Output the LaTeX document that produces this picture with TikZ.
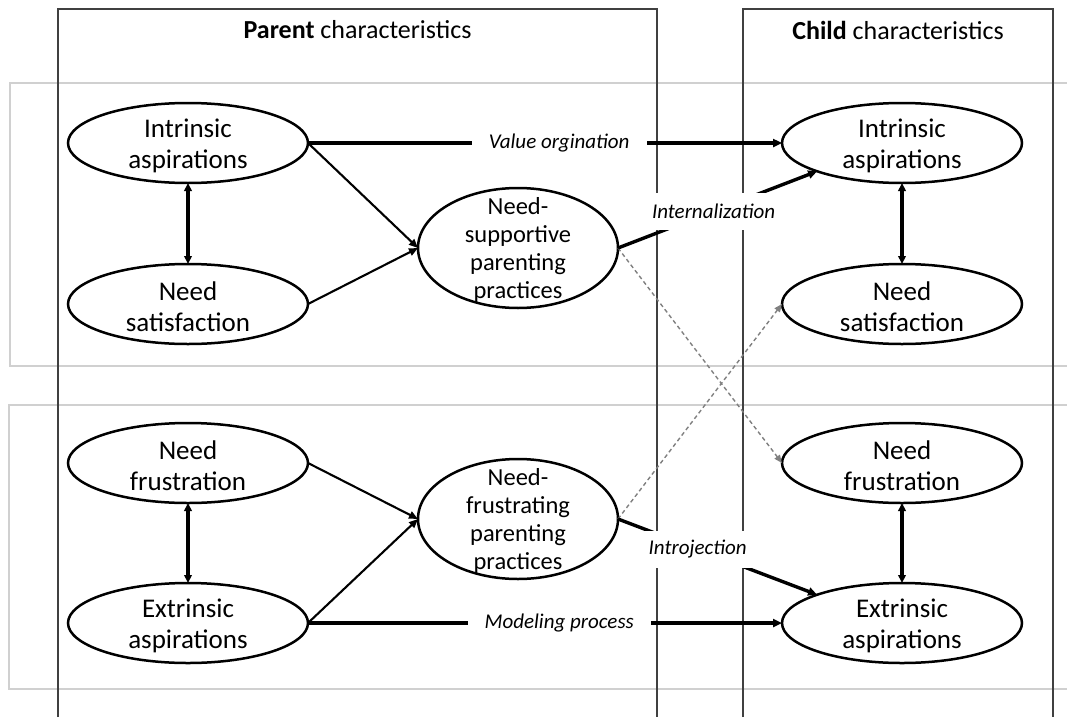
\documentclass[tikz,border=0pt]{standalone}
\usepackage{fontspec}
\setmainfont{Carlito}
\usetikzlibrary{shapes.geometric,arrows.meta}
\definecolor{boxgray}{HTML}{404040}
\definecolor{lightbox}{HTML}{D0D0D0}
\definecolor{dashgray}{HTML}{808080}
\tikzset{
  ell/.style={ellipse, draw=black, line width=2.5pt, fill=white, minimum width=240pt, minimum height=80pt, inner sep=0pt, outer sep=0pt},
  bigell/.style={ellipse, draw=black, line width=2.5pt, fill=white, minimum width=200pt, minimum height=120pt, inner sep=0pt, outer sep=0pt},
  etext/.style={align=center, font=\fontsize{27}{31}\selectfont, inner sep=0pt, yshift=-3pt},
  ctext/.style={align=center, font=\fontsize{24.5}{28.3}\selectfont, inner sep=0pt, yshift=-2pt},
  hdr/.style={font=\fontsize{26}{31}\selectfont, inner sep=0pt},
  arr/.style={line width=3.4pt, -{Triangle[length=9pt,width=8pt]}},
  thinarr/.style={line width=2.1pt, -{Triangle[length=9pt,width=7.5pt]}},
  dblarr/.style={line width=3.2pt, {Triangle[length=8pt,width=7.5pt]}-{Triangle[length=8pt,width=7.5pt]}},
  dasharr/.style={draw=dashgray, line width=1.4pt, dash pattern=on 4pt off 3pt, -{Triangle[length=8pt,width=6.5pt]}},
  lab/.style={fill=white, font=\itshape\fontsize{21}{25}\selectfont, inner xsep=17pt, inner ysep=0pt, minimum height=37pt},
}
\begin{document}
\begin{tikzpicture}[x=1pt,y=-1pt]
\useasboundingbox (0,0) rectangle (1067,717);
% light grey group boxes
\draw[lightbox, line width=2pt] (1067,83) -- (10,83) -- (10,366) -- (1067,366);
\draw[lightbox, line width=2pt] (1067,405) -- (9,405) -- (9,689) -- (1067,689);
% parent / child boxes
\draw[boxgray, line width=1.2pt] (58,717) -- (58,9) -- (657,9) -- (657,717);
\draw[boxgray, line width=1.2pt] (743,717) -- (743,9) -- (1053,9) -- (1053,717);
\node[hdr] (hp) at (357.5,30) {\textbf{Parent} characteristics};
\node[hdr] (hc) at (898,30) {\textbf{Child} characteristics};
% ellipses
\node[ell, label={[etext]center:Intrinsic\\aspirations}] (pi) at (188,143) {};
\node[ell, label={[etext]center:Need\\satisfaction}] (ps) at (188,304) {};
\node[ell, label={[etext]center:Need\\frustration}] (pf) at (188,463) {};
\node[ell, label={[etext]center:Extrinsic\\aspirations}] (pe) at (188,623) {};
\node[ell, label={[etext]center:Intrinsic\\aspirations}] (ci) at (902,143) {};
\node[ell, label={[etext]center:Need\\satisfaction}] (cs) at (902,304) {};
\node[ell, label={[etext]center:Need\\frustration}] (cf) at (902,463) {};
\node[ell, label={[etext]center:Extrinsic\\aspirations}] (ce) at (902,623) {};
\node[bigell, label={[ctext]center:Need-\\supportive\\parenting\\practices}] (ns) at (518,248) {};
\node[bigell, label={[ctext]center:Need-\\frustrating\\parenting\\practices}] (nf) at (518,519) {};
% double arrows
\draw[dblarr] (pi.south) -- (ps.north);
\draw[dblarr] (pf.south) -- (pe.north);
\draw[dblarr] (ci.south) -- (cs.north);
\draw[dblarr] (cf.south) -- (ce.north);
% arrows into central ellipses
\draw[thinarr] (pi.east) -- (ns.west);
\draw[thinarr] (ps.east) -- (ns.west);
\draw[thinarr] (pf.east) -- (nf.west);
\draw[thinarr] (pe.east) -- (nf.west);
% dashed cross arrows
\draw[dasharr] (ns.east) -- (cf.west);
\draw[dasharr] (nf.east) -- (cs.west);
% main labelled arrows
\draw[arr] (pi.east) -- node[lab, pos=0.53] (lv) {Value orgination} (ci.west);
\draw[arr] (pe.east) -- node[lab, pos=0.53] (lm) {Modeling process} (ce.west);
\draw[arr] (ns.east) -- node[lab, pos=0.48] (li) {Internalization} (ci.south west);
\draw[arr] (nf.east) -- node[lab, pos=0.40] (lj) {Introjection} (ce.north west);
\end{tikzpicture}
\end{document}
